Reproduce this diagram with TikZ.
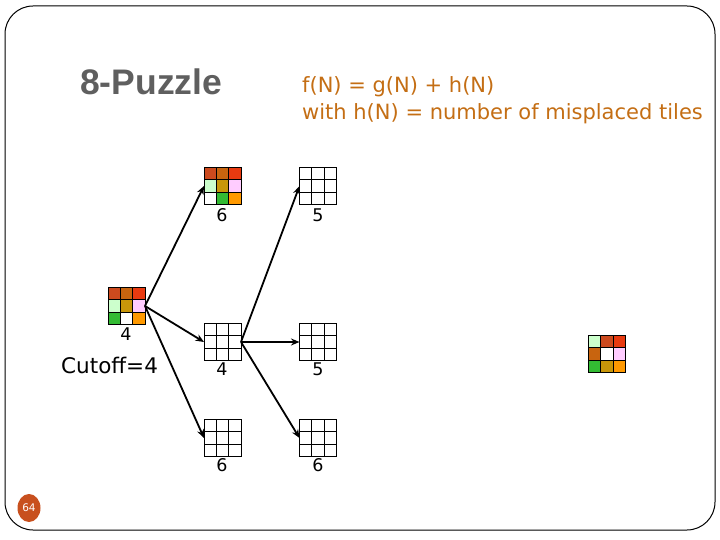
\documentclass[tikz,border=0pt]{standalone}
\usepackage{fontspec}
\setmainfont{DejaVu Sans}
\newfontfamily\titlefont{Liberation Sans}
\usetikzlibrary{arrows.meta,calc,shapes.geometric}
\definecolor{cRA}{HTML}{CC4A1E}
\definecolor{cBR}{HTML}{C8640F}
\definecolor{cRD}{HTML}{E83A10}
\definecolor{cLG}{HTML}{CCFFCC}
\definecolor{cGD}{HTML}{C8960A}
\definecolor{cPK}{HTML}{FFCCFF}
\definecolor{cGR}{HTML}{33BB33}
\definecolor{cOG}{HTML}{FF9900}
\definecolor{cTitle}{HTML}{5F5F5F}
\definecolor{cFormula}{HTML}{C46E14}
\definecolor{cPage}{HTML}{C8501E}
\tikzset{
  pzbox/.style={minimum size=37pt, inner sep=0pt, outer sep=0pt},
  pzline/.style={line width=0.9pt, black},
  arr/.style={line width=1.8pt, -{Stealth[length=8.5pt,width=7pt]}},
  lbl/.style={inner sep=0pt, anchor=base, font=\fontsize{17.5}{20}\selectfont},
  formula/.style={inner sep=0pt, anchor=base west, text=cFormula, font=\fontsize{21}{24}\selectfont},
}
\newcommand{\pzgrid}[4]{%
  \node[pzbox] (#1) at (#2,#3) {};
  \foreach \pzc [count=\pzi from 0] in {#4} {%
    \pgfmathtruncatemacro\pzrow{\pzi/3}%
    \pgfmathtruncatemacro\pzcol{\pzi-3*\pzrow}%
    \fill[\pzc] ($(#1.north west)+(\pzcol*12.333,\pzrow*12.333)$) rectangle ++(12.333,12.333);
  }
  \foreach \pzk in {1,2} {
    \draw[pzline] ($(#1.north west)+(\pzk*12.333,0)$) -- ++(0,37);
    \draw[pzline] ($(#1.north west)+(0,\pzk*12.333)$) -- ++(37,0);
  }
  \draw[pzline] (#1.north west) rectangle (#1.south east);
}
\begin{document}
\begin{tikzpicture}[x=1pt,y=-1pt]
\useasboundingbox (0,0) rectangle (720,540);
\draw[line width=1pt, rounded corners=28pt] (5,6) rectangle (715,530);

\node[inner sep=0pt, anchor=base west, text=cTitle, font=\titlefont\bfseries\fontsize{35.5}{40}\selectfont] (ttl) at (80,95) {8-Puzzle};
\node[formula] (f1) at (302,93) {f(N) = g(N) + h(N)};
\node[formula] (f2) at (302,120) {with h(N) = number of misplaced tiles};

\pzgrid{r}{126.5}{306}{cRA,cBR,cRD,cLG,cGD,cPK,cGR,white,cOG}
\pzgrid{a}{222.5}{186}{cRA,cBR,cRD,cLG,cGD,cPK,white,cGR,cOG}
\pzgrid{d}{318}{186}{white,white,white,white,white,white,white,white,white}
\pzgrid{b}{222.5}{342}{white,white,white,white,white,white,white,white,white}
\pzgrid{e}{318}{342}{white,white,white,white,white,white,white,white,white}
\pzgrid{c}{222.5}{438}{white,white,white,white,white,white,white,white,white}
\pzgrid{f}{318}{438}{white,white,white,white,white,white,white,white,white}
\pzgrid{g}{607}{354}{cLG,cRA,cRD,cBR,white,cPK,cGR,cGD,cOG}

\node[lbl] (rl) at (126,340) {4};
\node[lbl] (al) at (222,221.7) {6};
\node[lbl] (dl) at (318,221.7) {5};
\node[lbl] (bl) at (222,375) {4};
\node[lbl] (el) at (318,375) {5};
\node[lbl] (cl) at (222,471.7) {6};
\node[lbl] (fl) at (318,471.7) {6};

\node[inner sep=0pt, anchor=base west, font=\fontsize{21.5}{24}\selectfont] (cut) at (61,373.5) {Cutoff=4};

\draw[arr] (r.east) -- (a.west);
\draw[arr] (r.east) -- (b.west);
\draw[arr] (r.east) -- (c.west);
\draw[arr] (b.east) -- (d.west);
\draw[arr] (b.east) -- (e.west);
\draw[arr] (b.east) -- (f.west);

\node[ellipse, fill=cPage, minimum width=23pt, minimum height=28pt, inner sep=0pt, text=white, font=\fontsize{10.5}{12}\selectfont] (pg) at (29,508) {64};
\end{tikzpicture}
\end{document}
